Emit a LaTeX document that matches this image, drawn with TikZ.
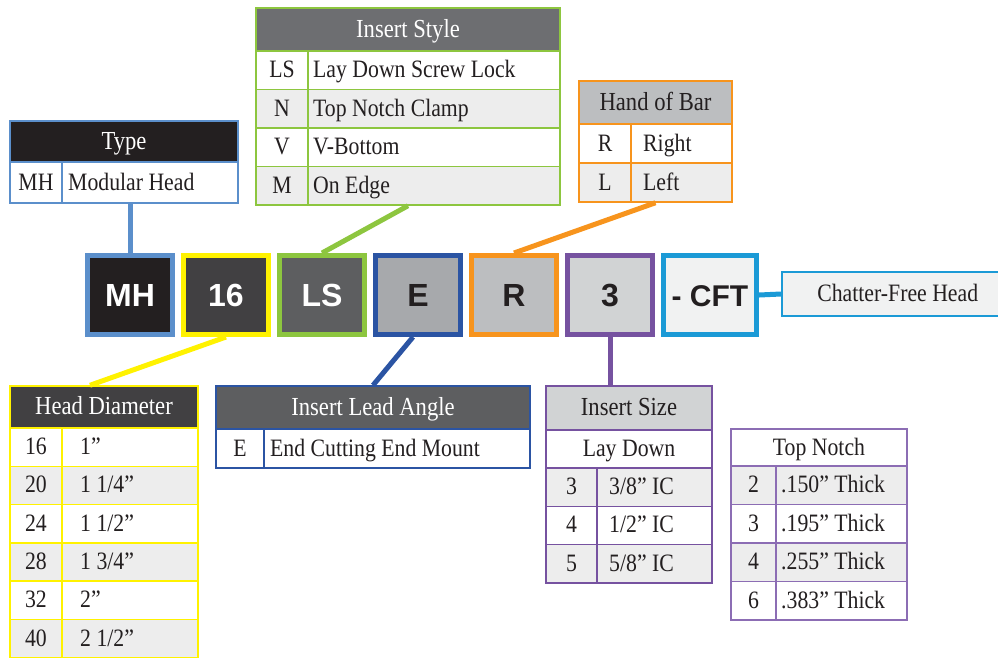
\documentclass[tikz,border=0pt]{standalone}
\usepackage{fontspec}
\setmainfont{Liberation Serif}[FakeStretch=0.87]
\setsansfont{Liberation Sans}
\usetikzlibrary{positioning}

\definecolor{mhblue}{HTML}{5B8FCB}
\definecolor{diayellow}{HTML}{FFF200}
\definecolor{stygreen}{HTML}{8DC63F}
\definecolor{leadblue}{HTML}{2B54A3}
\definecolor{handorange}{HTML}{F7941D}
\definecolor{sizepurple}{HTML}{7652A0}
\definecolor{notchpurple}{HTML}{8C6DB4}
\definecolor{cftcyan}{HTML}{1B9AD6}
\definecolor{rowgray}{HTML}{EDEDED}
\definecolor{ink}{HTML}{231F20}
\definecolor{gray1}{HTML}{414042}
\definecolor{gray2}{HTML}{5D5E60}
\definecolor{gray3}{HTML}{6D6E71}
\definecolor{gray4}{HTML}{A7A9AC}
\definecolor{gray5}{HTML}{BCBEC0}
\definecolor{gray6}{HTML}{D1D3D4}
\definecolor{gray7}{HTML}{F1F2F2}

\tikzset{
  tabtext/.style={font=\fontsize{25}{28}\selectfont, text=ink, inner sep=0pt,
    text height=18pt, text depth=3pt},
  hdrtext/.style={tabtext, font=\fontsize{26}{28}\selectfont},
  rule/.style={line width=1.5pt},
  frame/.style={rule, inner sep=0pt},
  codebox/.style={line width=5pt, minimum width=85pt, minimum height=79pt,
    inner sep=0pt, text height=23pt, text depth=0pt,
    font=\sffamily\bfseries\fontsize{32}{36}\selectfont},
  link/.style={line width=5pt},
}

% rows of a table: left, right, divider, pad, top, row height, colour, name, list
\newcommand{\tabrows}[9]{%
  \foreach \cd/\ds/\bg [count=\i] in {#9}{%
    \pgfmathsetmacro{\ya}{#5+(\i-1)*#6}
    \fill[fill=\bg] (#1,\ya) rectangle (#2,\ya+#6);
    \draw[rule, draw=#7] (#1,\ya) -- (#2,\ya);
    \node[tabtext] (#8c\i) at ({(#1+#3)/2},\ya+#6/2) {\cd};
    \node[tabtext, anchor=west] (#8d\i) at (#3+#4,\ya+#6/2) {\ds};
  }}

\begin{document}
\begin{tikzpicture}[x=1pt,y=-1pt, node distance=6pt]
  \useasboundingbox (0,0) rectangle (998,657);

  % Type
  \fill[ink] (10,121) rectangle (238,162);
  \node[hdrtext, text=white] (typehd) at (124,141.5) {Type};
  \tabrows{10}{238}{62}{6}{162}{41}{mhblue}{type}{MH/Modular Head/white}
  \draw[rule, draw=mhblue] (62,162) -- (62,203);
  \node[frame, draw=mhblue, minimum width=228pt, minimum height=82pt] (type) at (124,162) {};

  % Insert Style
  \fill[gray3] (256,8) rectangle (560,51);
  \node[hdrtext, text=white] (styhd) at (408,29.5) {Insert Style};
  \tabrows{256}{560}{308}{5}{51}{38.5}{stygreen}{sty}{LS/Lay Down Screw Lock/white,
    N/Top Notch Clamp/rowgray, V/V-Bottom/white, M/On Edge/rowgray}
  \draw[rule, draw=stygreen] (308,51) -- (308,205);
  \node[frame, draw=stygreen, minimum width=304pt, minimum height=197pt] (instyle) at (408,106.5) {};

  % Hand of Bar
  \fill[gray5] (579,81) rectangle (732,124);
  \node[hdrtext] (handhd) at (655.5,102.5) {Hand of Bar};
  \tabrows{579}{732}{631}{12}{124}{39}{handorange}{hand}{R/Right/white, L/Left/rowgray}
  \draw[rule, draw=handorange] (631,124) -- (631,202);
  \node[frame, draw=handorange, minimum width=153pt, minimum height=121pt] (hand) at (655.5,141.5) {};

  % Head Diameter
  \fill[gray1] (10,386) rectangle (198,428);
  \node[hdrtext, text=white] (diahd) at (104,407) {Head Diameter};
  \tabrows{10}{198}{62}{18}{428}{38.3}{diayellow}{dia}{16/1”/white, 20/{1 1/4”}/rowgray,
    24/{1 1/2”}/white, 28/{1 3/4”}/rowgray, 32/2”/white, 40/{2 1/2”}/rowgray}
  \draw[rule, draw=diayellow] (62,428) -- (62,658);
  \node[frame, draw=diayellow, minimum width=188pt, minimum height=272pt] (hdia) at (104,522) {};

  % Insert Lead Angle
  \fill[gray2] (216,386) rectangle (530,429);
  \node[hdrtext, text=white] (leadhd) at (373,407.5) {Insert Lead Angle};
  \tabrows{216}{530}{264}{6}{429}{39}{leadblue}{lead}{E/End Cutting End Mount/white}
  \draw[rule, draw=leadblue] (264,429) -- (264,468);
  \node[frame, draw=leadblue, minimum width=314pt, minimum height=82pt] (lead) at (373,427) {};

  % Insert Size
  \fill[gray6] (546,386) rectangle (712,430);
  \node[hdrtext] (sizehd) at (629,408) {Insert Size};
  \draw[rule, draw=sizepurple] (546,430) -- (712,430);
  \node[tabtext] (laydown) at (629,449) {Lay Down};
  \tabrows{546}{712}{597}{12}{468}{38.3}{sizepurple}{size}{3/{3/8” IC}/rowgray,
    4/{1/2” IC}/white, 5/{5/8” IC}/rowgray}
  \draw[rule, draw=sizepurple] (597,468) -- (597,583);
  \node[frame, draw=sizepurple, minimum width=166pt, minimum height=197pt] (isize) at (629,484.5) {};

  % Top Notch
  \node[tabtext] (notchhd) at (819,447.5) {Top Notch};
  \tabrows{731}{907}{776}{5}{466}{38.5}{notchpurple}{notch}{2/{.150” Thick}/rowgray,
    3/{.195” Thick}/white, 4/{.255” Thick}/rowgray, 6/{.383” Thick}/white}
  \draw[rule, draw=notchpurple] (776,466) -- (776,620);
  \node[frame, draw=notchpurple, minimum width=176pt, minimum height=191pt] (notch) at (819,524.5) {};

  % code boxes
  \node[codebox, draw=mhblue, fill=ink, text=white] (mh) at (130,295) {MH};
  \node[codebox, draw=diayellow, fill=gray1, text=white, right=of mh] (b16) {16};
  \node[codebox, draw=stygreen, fill=gray2, text=white, right=of b16] (bls) {LS};
  \node[codebox, draw=leadblue, fill=gray4, text=ink, right=of bls] (be) {E};
  \node[codebox, draw=handorange, fill=gray5, text=ink, right=of be] (br) {R};
  \node[codebox, draw=sizepurple, fill=gray6, text=ink, right=of br] (b3) {3};
  \node[codebox, draw=cftcyan, fill=gray7, text=ink, minimum width=93pt,
    font=\sffamily\bfseries\fontsize{30}{34}\selectfont, right=of b3] (cft) {- CFT};
  \node[tabtext, draw=cftcyan, fill=gray7, rule, minimum width=232pt, minimum height=44pt,
    anchor=west] (chatter) at (781,294) {Chatter-Free Head};

  % connectors
  \draw[link, mhblue] (mh.north) -- (mh.north |- type.south);
  \draw[link, stygreen] (instyle.south) -- (bls.north);
  \draw[link, handorange] (hand.south) -- (br.north);
  \draw[link, diayellow] (b16.south) -- ([xshift=-14pt]hdia.north);
  \draw[link, leadblue] ([xshift=-5pt]be.south) -- (lead.north);
  \draw[link, sizepurple] (b3.south) -- (b3.south |- isize.north);
  \draw[link, cftcyan] (cft.east) -- (chatter.west);
\end{tikzpicture}
\end{document}
